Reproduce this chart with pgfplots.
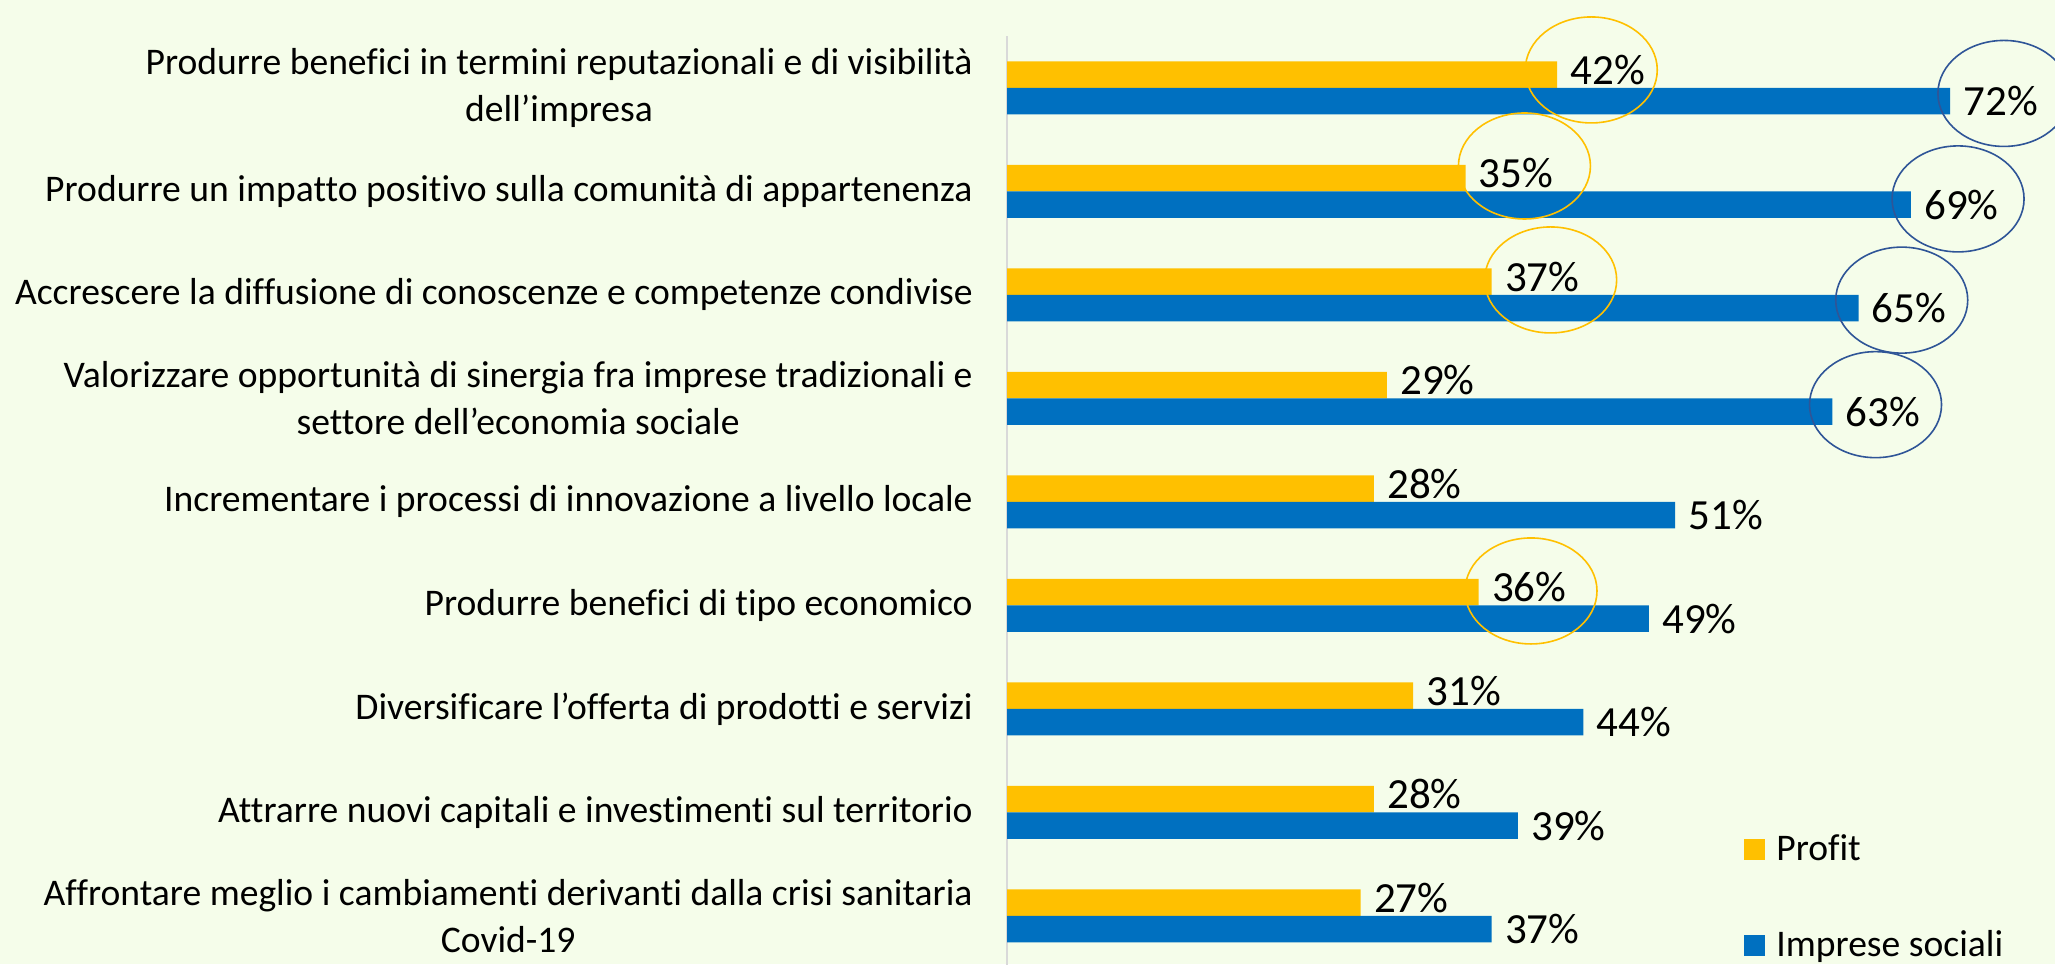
\documentclass[border=0pt]{standalone}
\usepackage{fontspec}
\setmainfont{Carlito}[Ligatures={NoCommon}]
\usepackage{pgfplots}
\pgfplotsset{compat=1.18}

\definecolor{bg}{HTML}{F5FDEA}
\definecolor{profit}{HTML}{FFC000}
\definecolor{sociali}{HTML}{0070C0}
\definecolor{ring}{HTML}{2F5597}
\definecolor{asse}{HTML}{D9D9D9}

\begin{document}
\begin{tikzpicture}
\useasboundingbox (0,0) rectangle (1027.5pt,482pt);
\fill[bg] (0,0) rectangle (1027.5pt,482pt);
\begin{axis}[
    at={(503.5pt,463.9pt)}, anchor=north west,
    scale only axis,
    width=524pt, height=465.75pt,
    xbar, bar width=13.25pt,
    xmin=0, xmax=80,
    ymin=-0.5, ymax=8.5,
    y dir=reverse,
    axis x line=none,
    axis y line*=left,
    y axis line style={-, draw=asse, line width=1pt},
    ytick={0,...,8},
    major tick length=0pt,
    yticklabels={
        {Produrre benefici in termini reputazionali e di visibilità\\dell’impresa},
        {Produrre un impatto positivo sulla comunità di appartenenza},
        {Accrescere la diffusione di conoscenze e competenze condivise},
        {Valorizzare opportunità di sinergia fra imprese tradizionali e\\settore dell’economia sociale},
        {Incrementare i processi di innovazione a livello locale},
        {Produrre benefici di tipo economico},
        {Diversificare l’offerta di prodotti e servizi},
        {Attrarre nuovi capitali e investimenti sul territorio},
        {Affrontare meglio i cambiamenti derivanti dalla crisi sanitaria\\Covid-19}
    },
    yticklabel style={align=center, anchor=east, inner sep=0pt, xshift=-17pt,
        font=\fontsize{18.8}{23.5}\selectfont},
    /pgf/number format/assume math mode=true,
    nodes near coords={\pgfmathprintnumber{\pgfplotspointmeta}\%},
    nodes near coords style={anchor=west, inner sep=0pt, xshift=6.5pt,
        font=\fontsize{21.5}{25}\selectfont, text=black},
    legend style={draw=none, fill=none, inner sep=0pt,
        at={(axis description cs:0.7032,0.1430)}, anchor=north west,
        font=\fontsize{18.8}{22}\selectfont, row sep=33.5pt,
        nodes={inner sep=0pt},
        /tikz/every odd column/.append style={column sep=5.5pt}},
    legend cell align=left,
    legend image code/.code={\fill (0pt,-5.25pt) rectangle (10.5pt,5.25pt);},
    clip=false,
]
\addplot[fill=profit, draw=none, bar shift=6.625pt,
    nodes near coords style={yshift=2.5pt}] coordinates {
    (42,0) (35,1) (37,2) (29,3) (28,4) (36,5) (31,6) (28,7) (27,8)
};
\addlegendentry{Profit}
\addplot[fill=sociali, draw=none, bar shift=-6.625pt] coordinates {
    (72,0) (69,1) (65,2) (63,3) (51,4) (49,5) (44,6) (39,7) (37,8)
};
\addlegendentry{Imprese sociali}

% evidenziazioni
\begin{scope}[line width=0.8pt, x radius=33pt, y radius=26.5pt]
\draw[profit] (axis cs:44.6,-0.174) ellipse [];
\draw[profit] (axis cs:39.5,0.754) ellipse [];
\draw[profit] (axis cs:41.5,1.855) ellipse [];
\draw[profit] (axis cs:40.0,4.86) ellipse [];
\draw[ring] (axis cs:76.1,0.053) ellipse [];
\draw[ring] (axis cs:72.6,1.072) ellipse [];
\draw[ring] (axis cs:68.3,2.05) ellipse [];
\draw[ring] (axis cs:66.3,3.06) ellipse [];
\end{scope}
\end{axis}
\end{tikzpicture}
\end{document}
